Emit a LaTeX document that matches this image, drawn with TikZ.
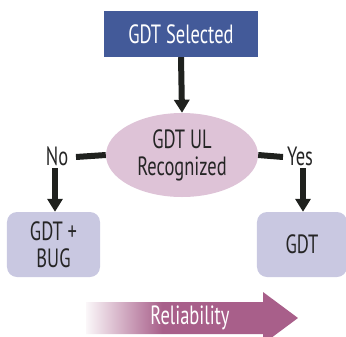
\documentclass[tikz,border=0pt]{standalone}
\usepackage{fontspec}
\setmainfont[FakeStretch=0.7]{PT Sans}
\usetikzlibrary{arrows.meta,shapes.geometric}
\definecolor{topblue}{HTML}{435A99}
\definecolor{ellpink}{HTML}{DEC3D7}
\definecolor{boxlav}{HTML}{C9C8E1}
\definecolor{relcol}{HTML}{A85F8A}
\definecolor{darkline}{HTML}{1F211E}
\definecolor{txtdark}{HTML}{252525}
\pgfdeclarehorizontalshading{relshade}{100bp}{color(0bp)=(white); color(25bp)=(relcol!5!white); color(43bp)=(relcol); color(100bp)=(relcol)}
\tikzset{
  bigfont/.style={font=\fontsize{26.5}{27}\selectfont},
  lbl/.style={bigfont, text=txtdark, inner sep=0pt, align=center},
  resultbox/.style={fill=boxlav, rounded corners=10bp, inner sep=0pt, minimum width=93bp, minimum height=65bp, lbl},
  conn/.style={draw=darkline, line width=6bp},
  arr/.style={conn, -{Triangle[width=15bp,length=13bp]}},
}
\begin{document}
\begin{tikzpicture}[x=1bp,y=-1bp]
\useasboundingbox (0,0) rectangle (346,337);
\node[fill=topblue, minimum width=154bp, minimum height=46bp, inner sep=0pt, bigfont, text=white] (sel) at (181,34) {GDT Selected};
\node[ellipse, fill=ellpink, minimum width=152bp, minimum height=84bp, inner sep=0pt, lbl] (rec) at (182,155) {GDT UL\\Recognized};
\node[lbl] (no) at (57,156) {No};
\node[lbl] (yes) at (300,156) {Yes};
\node[resultbox] (bug) at (53.5,244.5) {GDT +\\BUG};
\node[resultbox, minimum width=90bp] (gdt) at (302,244.5) {GDT};
\coordinate (nol) at (76,157);
\coordinate (yesr) at (283,157);
\coordinate (nob) at (55,168);
\coordinate (yesb) at (303,168);
\draw[arr] (sel.south) -- (rec.north);
\draw[conn] (rec.west) -- (nol);
\draw[conn] (rec.east) -- (yesr);
\draw[arr] (nob) -- (bug.north -| nob);
\draw[arr] (yesb) -- (gdt.north -| yesb);
\shade[shading=relshade] (86,302) -- (263,302) -- (263,292) -- (298,318) -- (263,344) -- (263,334) -- (86,334) -- cycle;
\node[bigfont, text=white, inner sep=0pt] (rel) at (190,318) {Reliability};
\end{tikzpicture}
\end{document}
